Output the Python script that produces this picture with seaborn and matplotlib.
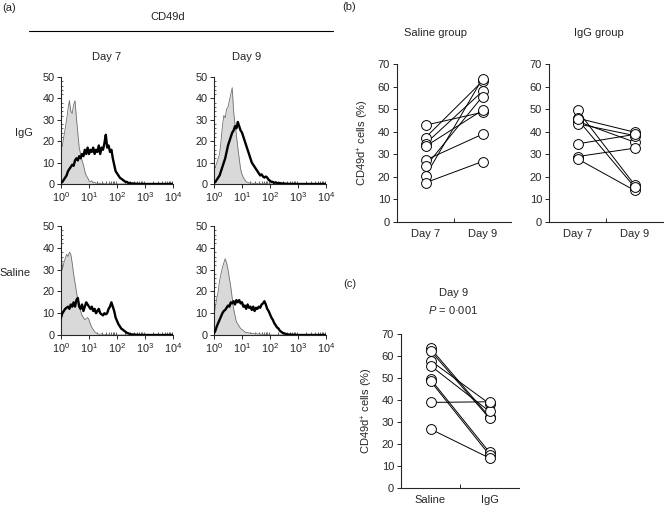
"""
CD49d expression - flow histograms (a) and paired dot plots (b, c).
"""

import numpy as np
import pandas as pd
import matplotlib
matplotlib.use("Agg")
import matplotlib.pyplot as plt
from matplotlib.lines import Line2D
from matplotlib.ticker import LogLocator, NullFormatter, MultipleLocator
import seaborn as sns

W, H = 664, 505

# ---- (a) histograms: channel position in decades, counts
decades = [0.00, 0.05, 0.10, 0.15, 0.20, 0.25, 0.30, 0.35, 0.40, 0.45,
           0.50, 0.55, 0.60, 0.65, 0.70, 0.75, 0.80, 0.85, 0.90, 0.95,
           1.00, 1.05, 1.10, 1.15, 1.20, 1.25, 1.30, 1.35, 1.40, 1.45,
           1.50, 1.55, 1.60, 1.65, 1.70, 1.75, 1.80, 1.85, 1.90, 1.95,
           2.00, 2.05, 2.10, 2.15, 2.20, 2.25, 2.30, 2.35, 2.40, 2.45,
           2.50, 2.60, 2.80, 3.00, 3.20, 3.40, 3.60, 3.80, 4.00]

igg_d7_ctrl = [16, 18, 22, 26, 30, 35, 39, 34, 33, 37,
               39, 31, 24, 17, 14, 11, 9, 6, 4, 3,
               1.5, 1, 1.5, 0.5, 0.8, 0.3, 0.5, 0.2, 0.4, 0,
               0.3, 0, 0.2, 0, 0, 0.3, 0, 0, 0.2, 0,
               0, 0, 0, 0, 0, 0, 0, 0, 0, 0,
               0, 0, 0, 0, 0, 0, 0, 0, 0]
igg_d7_cd49d = [0.5, 1, 2, 3, 4, 6, 7, 8, 9, 8.5,
                11, 12, 11, 13, 12, 14, 13, 16, 14, 17,
                14, 16, 15, 17, 14, 16, 15, 18, 14, 17,
                16, 19, 23, 17, 18, 15, 16, 12, 9, 6,
                5, 4, 3, 2.5, 2, 1.5, 1, 1, 0.5, 0.5,
                0.3, 0.2, 0, 0, 0, 0, 0, 0, 0]
igg_d9_ctrl = [6, 8, 10, 12, 14, 20, 27, 32, 31, 35,
               36, 39, 42, 45, 34, 28, 23, 17, 12, 7,
               4.5, 3, 2, 1, 0.8, 0.5, 0.3, 0.5, 0.2, 0.4,
               0.2, 0.3, 0, 0.2, 0, 0.3, 0, 0.2, 0, 0,
               0, 0, 0, 0, 0, 0, 0, 0, 0, 0,
               0, 0, 0, 0, 0, 0, 0, 0, 0]
igg_d9_cd49d = [0.5, 1, 2, 3, 4, 6, 8, 10, 12, 15,
                18, 20, 22, 24, 25, 27, 26, 29, 27, 25,
                24, 22, 20, 18, 16, 14, 12, 10, 9, 8,
                7, 6, 5, 4, 4.5, 3.5, 3, 3.5, 3, 2,
                1.5, 1, 1, 0.5, 0.8, 0.5, 0.3, 0.5, 0.2, 0.3,
                0.2, 0.1, 0, 0, 0, 0, 0, 0, 0]
sal_d7_ctrl = [38, 30, 33, 35, 37, 36, 38, 37, 33, 28,
               24, 20, 16, 13, 11, 9, 8, 7, 7.5, 8,
               7, 5, 3.5, 2.5, 1.5, 1, 0.6, 0.4, 0.3, 0.5,
               0.2, 0, 0.3, 0, 0.2, 0, 0, 0, 0, 0,
               0, 0, 0, 0, 0, 0, 0, 0, 0, 0,
               0, 0, 0, 0, 0, 0, 0, 0, 0]
sal_d7_cd49d = [8, 10, 11, 12, 12.5, 13, 12, 14, 13, 15,
                13, 16, 17, 13, 12, 14, 11, 13, 15, 14,
                13, 12, 13, 11, 12, 10, 11, 12, 10, 9.5,
                9, 10, 9.5, 10, 12, 13, 15, 13, 11, 8,
                6.5, 5, 4, 3, 2.5, 2, 1.5, 1, 0.8, 0.5,
                0.3, 0.2, 0, 0, 0, 0, 0, 0, 0]
sal_d9_ctrl = [10, 13, 17, 20, 25, 28, 31, 33, 35, 33,
               30, 26, 22, 17, 12, 9, 6, 5, 4, 3,
               2.5, 2, 1.5, 1, 1.2, 0.8, 1, 0.6, 0.8, 0.5,
               0.7, 0.4, 0.6, 0.3, 0.5, 0.3, 0.4, 0.2, 0.3, 0,
               0.2, 0, 0, 0, 0, 0, 0, 0, 0, 0,
               0, 0, 0, 0, 0, 0, 0, 0, 0]
sal_d9_cd49d = [0.8, 2, 4, 5.5, 7, 8.5, 10, 11, 11.5, 12.5,
                13.5, 13, 15, 14.5, 15.5, 14, 16, 15, 16, 14.5,
                15, 13, 13.5, 12, 14, 12.5, 13, 11.5, 13, 11,
                12.5, 12, 13, 12.5, 14, 14.5, 15.5, 14, 12, 11,
                9.5, 8, 7, 5.5, 4.5, 3.5, 3, 2, 1.5, 1,
                0.8, 0.3, 0.1, 0, 0, 0, 0, 0, 0]

# ---- (b) % CD49d+ cells per mouse, day 7 -> day 9
saline_day7 = [42.9, 37.4, 34.7, 33.5, 27.4, 24.6, 20.4, 17.4]
saline_day9 = [48.6, 62.4, 57.9, 49.5, 38.9, 55.6, 63.5, 26.8]
igg_day7 = [49.4, 46.0, 44.6, 43.5, 34.6, 29.0, 28.0, 45.5]
igg_day9 = [16.5, 39.8, 35.4, 38.3, 38.8, 32.7, 14.0, 15.5]

# ---- (c) day 9, saline vs IgG
c_saline = [63.5, 62.4, 57.9, 55.6, 49.5, 48.6, 38.9, 26.8]
c_igg = [32.3, 31.7, 38.3, 34.8, 16.2, 15.0, 39.2, 13.6]

FS = 8


def px_axes(fig, left, top, right, bottom):
    return fig.add_axes([left / W, 1 - bottom / H, (right - left) / W, (bottom - top) / H])


def fig_text(fig, x, y, s, **kw):
    kw.setdefault("ha", "center")
    kw.setdefault("va", "center")
    kw.setdefault("fontsize", FS)
    fig.text(x / W, 1 - y / H, s, **kw)


def draw_hist(ax, ctrl, stain):
    x = 10 ** np.array(decades)
    ax.fill_between(x, 0, ctrl, color="#d9d9d9", lw=0, zorder=1)
    sns.lineplot(x=x, y=ctrl, color="#707070", lw=0.6, ax=ax, zorder=2)
    sns.lineplot(x=x, y=stain, color="black", lw=1.7, ax=ax, zorder=3)
    ax.set_xscale("log")
    ax.set_xlim(1, 1e4)
    ax.set_ylim(0, 50)
    ax.xaxis.set_major_locator(LogLocator(base=10, numticks=10))
    ax.xaxis.set_minor_locator(LogLocator(base=10, subs=np.arange(2, 10), numticks=10))
    ax.xaxis.set_minor_formatter(NullFormatter())
    ax.yaxis.set_major_locator(MultipleLocator(10))
    ax.yaxis.set_minor_locator(MultipleLocator(2))
    ax.tick_params(axis="both", which="major", length=3, width=0.7, labelsize=7.8, pad=1.5)
    ax.tick_params(axis="x", which="minor", direction="in", length=2, width=0.5)
    ax.tick_params(axis="y", which="minor", direction="in", length=1.5, width=0.5)
    ax.set_xlabel("")
    ax.set_ylabel("")
    sns.despine(ax=ax)


def draw_pairs(ax, left_vals, right_vals, labels, ylabel=True):
    df = pd.DataFrame({
        "mouse": list(range(len(left_vals))) * 2,
        "group": [labels[0]] * len(left_vals) + [labels[1]] * len(right_vals),
        "pct": list(left_vals) + list(right_vals),
    })
    sns.lineplot(data=df, x="group", y="pct", units="mouse", estimator=None,
                 color="black", lw=0.7, sort=False, ax=ax, zorder=2)
    sns.scatterplot(data=df, x="group", y="pct", marker="o", s=50,
                    facecolor="white", edgecolor="black", linewidth=0.7,
                    ax=ax, zorder=3)
    ax.set_xlim(-0.5, 1.5)
    ax.set_ylim(0, 70)
    ax.yaxis.set_major_locator(MultipleLocator(10))
    ax.set_xticks([0.5], minor=True)
    ax.tick_params(axis="x", which="major", length=0, labelsize=FS, pad=5)
    ax.tick_params(axis="x", which="minor", direction="in", length=3, width=0.7)
    ax.tick_params(axis="y", which="major", length=3, width=0.7, labelsize=FS, pad=2)
    ax.set_xlabel("")
    ax.set_ylabel("CD49d$^{+}$ cells (%)" if ylabel else "", fontsize=FS, labelpad=5)
    sns.despine(ax=ax)


def main():
    sns.set_theme(style="ticks")
    plt.rcParams["font.family"] = ["Liberation Sans", "DejaVu Sans"]
    plt.rcParams["mathtext.fontset"] = "custom"
    plt.rcParams["mathtext.rm"] = "Liberation Sans"
    plt.rcParams["mathtext.it"] = "Liberation Sans:italic"
    plt.rcParams["axes.linewidth"] = 0.8

    fig = plt.figure(figsize=(W / 100, H / 100), dpi=100)

    # panel (a)
    draw_hist(px_axes(fig, 61, 77, 173, 184), igg_d7_ctrl, igg_d7_cd49d)
    draw_hist(px_axes(fig, 214, 77, 326, 184), igg_d9_ctrl, igg_d9_cd49d)
    draw_hist(px_axes(fig, 61, 226, 173, 335), sal_d7_ctrl, sal_d7_cd49d)
    draw_hist(px_axes(fig, 214, 226, 326, 335), sal_d9_ctrl, sal_d9_cd49d)

    fig_text(fig, 2, 8, "(a)", ha="left")
    fig_text(fig, 168, 17, "CD49d")
    fig.add_artist(Line2D([29 / W, 333 / W], [1 - 31 / H, 1 - 31 / H],
                          color="black", lw=0.8))
    fig_text(fig, 107, 57, "Day 7")
    fig_text(fig, 247, 57, "Day 9")
    fig_text(fig, 24, 133, "IgG")
    fig_text(fig, 15, 273, "Saline")

    # panel (b)
    draw_pairs(px_axes(fig, 397, 64, 511, 222), saline_day7, saline_day9, ["Day 7", "Day 9"])
    draw_pairs(px_axes(fig, 549, 64, 663, 222), igg_day7, igg_day9, ["Day 7", "Day 9"], ylabel=False)
    fig_text(fig, 342, 7, "(b)", ha="left")
    fig_text(fig, 436, 33, "Saline group")
    fig_text(fig, 599, 33, "IgG group")

    # panel (c)
    draw_pairs(px_axes(fig, 401, 334, 519, 488), c_saline, c_igg, ["Saline", "IgG"])
    fig_text(fig, 343, 284, "(c)", ha="left")
    fig_text(fig, 454, 293, "Day 9")
    fig_text(fig, 453, 310, "$P$ = 0·001")

    fig.savefig("out.png", dpi=100)
    plt.close(fig)


if __name__ == "__main__":
    main()
